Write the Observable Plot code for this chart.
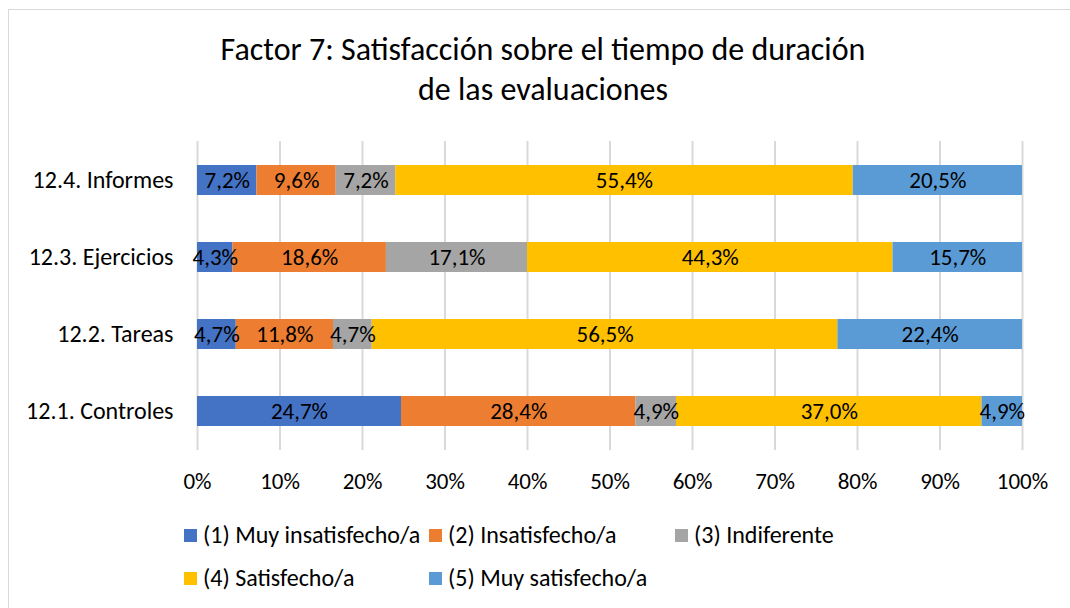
<!DOCTYPE html>
<html>
<head>
<meta charset="utf-8">
<script src="https://cdn.jsdelivr.net/npm/d3@7"></script>
<script src="https://cdn.jsdelivr.net/npm/@observablehq/plot@0.6"></script>
<style>
  html, body { margin: 0; padding: 0; background: #fff; }
  body { width: 1070px; height: 608px; overflow: hidden; font-family: Carlito, Lato, "Open Sans", sans-serif; color: #000; }
  #wrap { position: relative; width: 1070px; height: 608px; }
  #frame { position: absolute; left: 8px; top: 9px; width: 1100px; height: 640px; border: 1px solid #d9d9d9; box-sizing: border-box; }
  #title { position: absolute; left: 0; top: 30px; width: 1086px; text-align: center; font-size: 32px; line-height: 40px; color: #000; }
  #chart { position: absolute; left: 0; top: 120px; }
  .leg { position: absolute; font-size: 24px; line-height: 26px; white-space: nowrap; }
  .sw { position: absolute; width: 13px; height: 13px; }
</style>
</head>
<body>
<div id="wrap">
  <div id="frame"></div>
  <div id="title">Factor 7: Satisfacción sobre el tiempo de duración<br>de las evaluaciones</div>
  <div id="chart"></div>
  <div id="legend"></div>
</div>
<script>
const categories = ["12.4. Informes", "12.3. Ejercicios", "12.2. Tareas", "12.1. Controles"];
const seriesNames = ["(1) Muy insatisfecho/a", "(2) Insatisfecho/a", "(3) Indiferente", "(4) Satisfecho/a", "(5) Muy satisfecho/a"];
const seriesColors = ["#4472C4", "#ED7D31", "#A5A5A5", "#FFC000", "#5B9BD5"];
// values per category, in series order
const informes   = [7.2, 9.6, 7.2, 55.4, 20.5];
const ejercicios = [4.3, 18.6, 17.1, 44.3, 15.7];
const tareas     = [4.7, 11.8, 4.7, 56.5, 22.4];
const controles  = [24.7, 28.4, 4.9, 37.0, 4.9];
const xTicks = [0, 0.1, 0.2, 0.3, 0.4, 0.5, 0.6, 0.7, 0.8, 0.9, 1];

const rows = [informes, ejercicios, tareas, controles];
const data = [];
categories.forEach((c, i) => rows[i].forEach((v, j) => data.push({cat: c, series: seriesNames[j], value: v})));

const fmt = v => v.toFixed(1).replace(".", ",") + "%";
const FONT = "Carlito, Lato, 'Open Sans', sans-serif";

const chart = Plot.plot({
  width: 1070,
  height: 380,
  marginLeft: 197,
  marginRight: 48,
  marginTop: 21,
  marginBottom: 50,
  style: {fontFamily: FONT, fontSize: "21px", color: "#000", background: "transparent", overflow: "visible"},
  x: {domain: [0, 1], label: null},
  y: {domain: categories, paddingInner: 0.61, paddingOuter: 0.305, label: null},
  color: {domain: seriesNames, range: seriesColors},
  marks: [
    Plot.gridX(xTicks, {stroke: "#d9d9d9", strokeOpacity: 1, strokeWidth: 2}),
    Plot.barX(data, Plot.stackX({x: "value", y: "cat", fill: "series", z: "series", order: seriesNames, offset: "normalize"})),
    Plot.text(data, Plot.stackX({x: "value", y: "cat", z: "series", order: seriesNames, offset: "normalize",
      text: d => fmt(d.value), fill: "#000", fontSize: 23})),
    Plot.axisX({ticks: xTicks, tickFormat: d => Math.round(d * 100) + "%", tickSize: 0, tickPadding: 22, fontSize: 23, label: null}),
    Plot.axisY({tickSize: 0, tickPadding: 24, fontSize: 24, label: null})
  ]
});
document.getElementById("chart").appendChild(chart);

// legend
const legendPos = [
  {sx: 184, tx: 203, y: 535},
  {sx: 429, tx: 448, y: 535},
  {sx: 675, tx: 694, y: 535},
  {sx: 184, tx: 203, y: 578},
  {sx: 429, tx: 448, y: 578}
];
const legend = document.getElementById("legend");
seriesNames.forEach((name, i) => {
  const p = legendPos[i];
  const sw = document.createElement("div");
  sw.className = "sw";
  sw.style.left = p.sx + "px";
  sw.style.top = (p.y - 6) + "px";
  sw.style.background = seriesColors[i];
  legend.appendChild(sw);
  const t = document.createElement("div");
  t.className = "leg";
  t.style.left = p.tx + "px";
  t.style.top = (p.y - 13) + "px";
  t.textContent = name;
  legend.appendChild(t);
});
</script>
</body>
</html>
